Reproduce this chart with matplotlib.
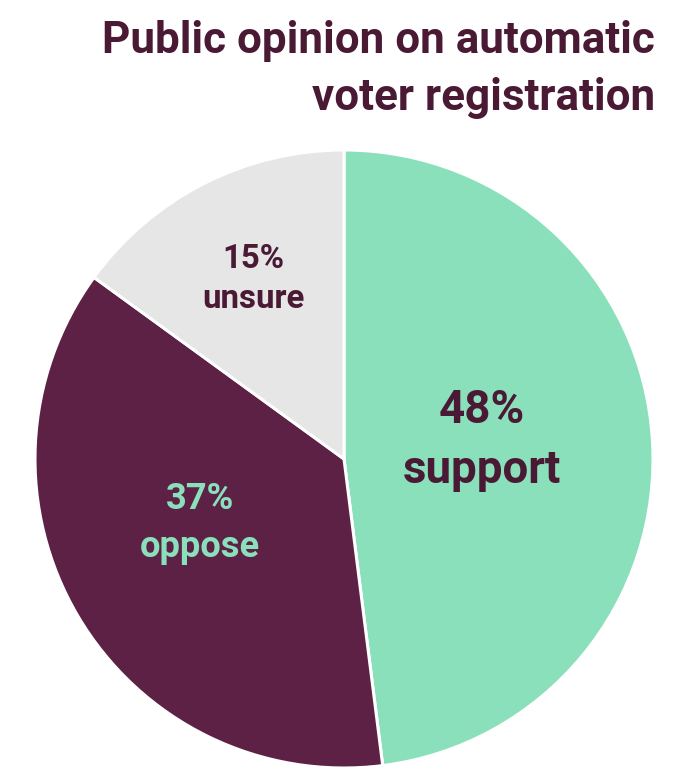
import matplotlib.pyplot as plt

labels = ["support", "oppose", "unsure"]
values = [48, 37, 15]
colors = ["#8be0bc", "#5e2146", "#e6e6e6"]
text_colors = ["#4a1a35", "#8be0bc", "#4a1a35"]

W, H = 691, 777
fig = plt.figure(figsize=(W / 100, H / 100), dpi=100)
fig.patch.set_facecolor("white")

# pie centre (344, 459), radius 309 px
cx, cy, r = 344, 459, 309
ax = fig.add_axes([(cx - r) / W, (H - cy - r) / H, 2 * r / W, 2 * r / H])
ax.pie(values, colors=colors, startangle=90, counterclock=False, radius=1,
       wedgeprops=dict(edgecolor="white", linewidth=2.2))
ax.set_xlim(-1, 1)
ax.set_ylim(-1, 1)
ax.set_aspect("equal")
ax.axis("off")

font = dict(family=["Roboto", "DejaVu Sans"], fontweight="bold")
renderer = fig.canvas.get_renderer()


def fit(t, width):
    # shrink/grow the font so the text spans the wanted pixel width
    w = t.get_window_extent(renderer).width
    t.set_fontsize(t.get_fontsize() * width / w)


# label positions in data coords of the pie axes, wanted widths, line gaps
pos = [((482 - cx) / r, (cy - 440) / r), ((200 - cx) / r, (cy - 523) / r),
       ((253 - cx) / r, (cy - 279) / r)]
widths = [158, 120, 102]
spacing = [1.45, 1.4, 1.3]
for lab, v, p, c, wd, ls in zip(labels, values, pos, text_colors, widths, spacing):
    t = ax.text(p[0], p[1], f"{v}%\n{lab}", ha="center", va="center", color=c,
                fontsize=30, linespacing=ls, **font)
    fit(t, wd)

title = fig.text(655 / W, 1 - 20 / H, "Public opinion on automatic\nvoter registration",
                 ha="right", va="top", color="#4a1a35", fontsize=30,
                 linespacing=1.45, **font)
fit(title, 552)

fig.savefig("out.png", dpi=100)
